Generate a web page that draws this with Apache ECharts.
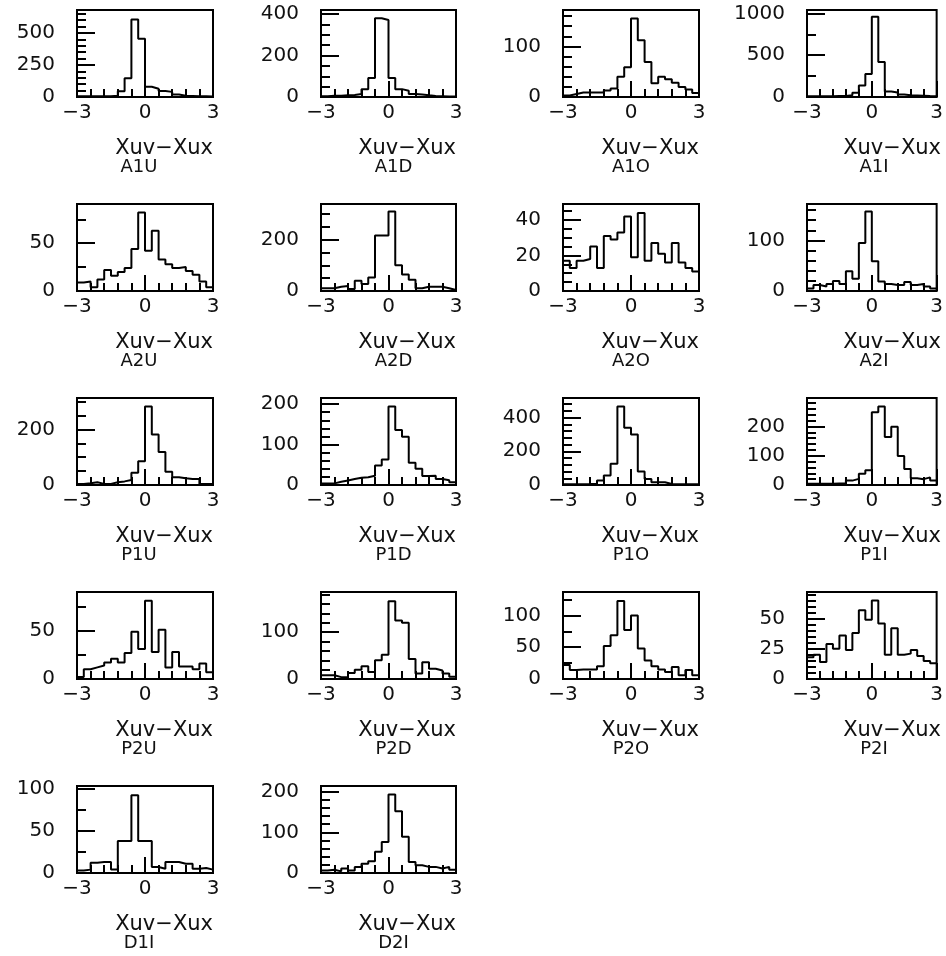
<!DOCTYPE html>
<html><head><meta charset="utf-8">
<script src="https://cdn.jsdelivr.net/npm/echarts@6/dist/echarts.min.js"></script>
<style>html,body{margin:0;padding:0;background:#fff}#chart{width:946px;height:956px}</style>
</head><body><div id="chart"></div>
<script>
// ---- data ----
const binEdges = [-3, -2.7, -2.4, -2.1, -1.8, -1.5, -1.2, -0.9, -0.6, -0.3, 0, 0.3, 0.6, 0.9, 1.2, 1.5, 1.8, 2.1, 2.4, 2.7, 3];
const panelNames = ['A1U', 'A1D', 'A1O', 'A1I', 'A2U', 'A2D', 'A2O', 'A2I', 'P1U', 'P1D', 'P1O', 'P1I', 'P2U', 'P2D', 'P2O', 'P2I', 'D1I', 'D2I'];
const xTitle = 'Xuv\u2212Xux';
const xTickValues = [-3, 0, 3];

const A1U = [5, 5, 5, 5, 6, 10, 45, 147, 605, 455, 80, 65, 47, 40, 20, 10, 8, 6, 5, 4];
const A1D = [4, 6, 6, 8, 10, 14, 38, 92, 380, 372, 92, 38, 30, 15, 12, 8, 5, 4, 3, 2];
const A1O = [3, 6, 9, 9, 9, 9, 13, 17, 40, 59, 155, 112, 69, 27, 40, 35, 28, 20, 15, 8];
const A1I = [8, 8, 10, 10, 12, 12, 20, 50, 138, 275, 958, 417, 67, 54, 30, 20, 18, 15, 12, 10];
const A2U = [9, 10, 4, 12, 22, 16, 20, 24, 44, 82, 42, 63, 33, 28, 24, 25, 21, 17, 10, 4];
const A2D = [11, 11, 17, 20, 8, 40, 27, 53, 217, 217, 311, 101, 64, 44, 11, 17, 17, 17, 11, 4];
const A2O = [17, 13, 17, 18, 25, 13, 31, 29, 33, 42, 19, 44, 17, 27, 21, 16, 27, 16, 13, 11];
const A2I = [5, 12, 9, 14, 20, 14, 39, 24, 95, 157, 59, 19, 14, 12, 12, 18, 12, 14, 9, 5];
const P1U = [4, 6, 10, 4, 4, 10, 13, 18, 44, 85, 282, 182, 119, 48, 28, 24, 22, 22, 4, 4];
const P1D = [4, 4, 8, 11, 15, 18, 19, 23, 48, 63, 194, 136, 119, 55, 40, 22, 23, 15, 12, 7];
const P1O = [5, 5, 5, 6, 8, 26, 56, 126, 466, 340, 300, 80, 36, 16, 16, 6, 5, 5, 5, 5];
const P1I = [4, 4, 4, 4, 5, 6, 15, 21, 38, 50, 248, 268, 164, 199, 99, 55, 23, 20, 26, 15];
const P2U = [2, 10, 12, 14, 17, 21, 17, 27, 49, 31, 81, 28, 51, 12, 28, 13, 13, 10, 16, 7];
const P2D = [8, 8, 4, 4, 13, 20, 27, 15, 40, 52, 166, 125, 120, 43, 12, 36, 22, 18, 12, 5];
const P2O = [22, 14, 15, 15, 15, 20, 52, 69, 123, 77, 100, 48, 29, 20, 15, 11, 19, 6, 14, 6];
const P2I = [18, 20, 14, 29, 25, 36, 24, 38, 57, 49, 65, 46, 20, 42, 20, 21, 24, 19, 15, 13];
const D1I = [3, 4, 12, 13, 13, 4, 38, 38, 92, 38, 38, 7, 5, 13, 13, 11, 11, 5, 6, 4];
const D2I = [6, 8, 4, 11, 6, 15, 23, 29, 52, 76, 193, 152, 89, 27, 19, 15, 15, 11, 15, 8];

const panelValues = [A1U, A1D, A1O, A1I, A2U, A2D, A2O, A2I, P1U, P1D, P1O, P1I, P2U, P2D, P2O, P2I, D1I, D2I];
// y-axis scale per panel
const yMax   = [680, 420, 172, 1040, 91, 340, 49, 172, 313, 215, 516, 297, 90, 186, 137, 72, 103, 214];
const yMajor = [250, 200, 100, 500, 50, 200, 20, 100, 200, 100, 200, 100, 50, 100, 50, 25, 50, 100];
const yMinor = [50, 50, 20, 250, 25, 50, 5, 20, 50, 20, 40, 20, 25, 20, 25, 5, 25, 20];

// ---- layout ----
const colLeft = [77, 321, 563, 807];
const colWidth = [136, 135, 136, 134];
const rowTop = [10, 204, 398, 592, 786];
const panelH = 87;
const nameShift = [-6, 5, 0, 0];
const FONT = 'DejaVu Sans';
const INK = '#000';

function fmtNum(v) { return v < 0 ? '\u2212' + (-v) : String(v); }

const grids = [], xAxes = [], yAxes = [], series = [], graphics = [];
panelValues.forEach((vals, i) => {
  const r = Math.floor(i / 4), c = i % 4;
  const L = colLeft[c], W = colWidth[c], T = rowTop[r];
  grids.push({ left: L, top: T, width: W, height: panelH, show: true,
    borderColor: INK, borderWidth: 2, backgroundColor: 'transparent' });
  xAxes.push({ gridIndex: i, type: 'value', position: 'bottom', min: -3, max: 3, interval: 3,
    axisLine: { show: false, onZero: false }, splitLine: { show: false },
    axisTick: { show: true, inside: true, length: 16, lineStyle: { color: INK, width: 2 } },
    minorTick: { show: true, splitNumber: 5, length: 8, lineStyle: { color: INK, width: 2 } },
    axisLabel: { margin: 6, fontFamily: FONT, fontSize: 20, color: '#111',
      formatter: v => xTickValues.includes(v) ? fmtNum(v) : '' } });
  const maj = yMajor[i];
  yAxes.push({ gridIndex: i, type: 'value', position: 'left', min: 0, max: yMax[i], interval: maj,
    axisLine: { show: false, onZero: false }, splitLine: { show: false },
    axisTick: { show: true, inside: true, length: 18, lineStyle: { color: INK, width: 2 } },
    axisLabel: { margin: 22, fontFamily: FONT, fontSize: 20, color: '#111',
      formatter: v => (Math.abs(v / maj - Math.round(v / maj)) < 1e-6 ? fmtNum(v) : '') } });
  yAxes.push({ gridIndex: i, type: 'value', position: 'left', min: 0, max: yMax[i], interval: yMinor[i],
    axisLine: { show: false, onZero: false }, splitLine: { show: false },
    axisTick: { show: true, inside: true, length: 9, lineStyle: { color: INK, width: 2 } },
    axisLabel: { show: false } });
  const data = vals.map((v, k) => [binEdges[k], v]);
  data.push([binEdges[binEdges.length - 1], vals[vals.length - 1]]);
  series.push({ type: 'line', xAxisIndex: i, yAxisIndex: 2 * i, step: 'end', symbol: 'none',
    lineStyle: { color: INK, width: 2 }, data, silent: true, z: 3 });
  const B = T + panelH;
  graphics.push({ type: 'text', x: L + W, y: B + 52,
    style: { text: xTitle, font: '21px "' + FONT + '"', fill: '#111', textAlign: 'right', textVerticalAlign: 'middle' } });
  graphics.push({ type: 'text', x: L + W / 2 + nameShift[c], y: B + 70,
    style: { text: panelNames[i], font: '18px "' + FONT + '"', fill: '#111', textAlign: 'center', textVerticalAlign: 'middle' } });
});

const chart = echarts.init(document.getElementById('chart'), null, { renderer: 'canvas' });
chart.setOption({
  animation: false,
  backgroundColor: '#fff',
  grid: grids, xAxis: xAxes, yAxis: yAxes, series, graphic: graphics
});
</script></body></html>
